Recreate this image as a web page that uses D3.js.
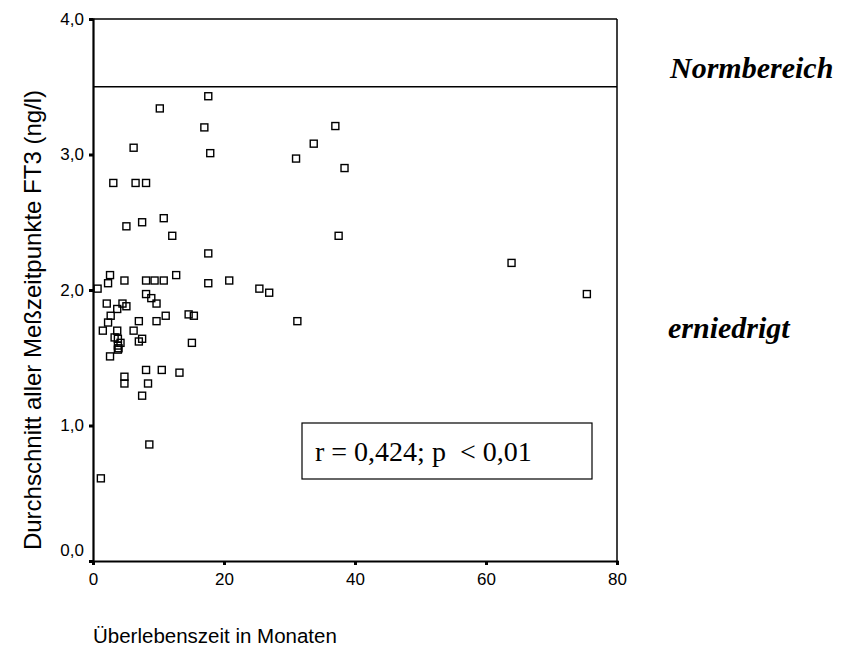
<!DOCTYPE html>
<html><head><meta charset="utf-8">
<script src="https://cdn.jsdelivr.net/npm/d3@7"></script>
<style>body{margin:0;background:#fff}svg{display:block}</style>
</head><body>
<svg id="c" width="851" height="651"></svg>
<script>
const survivalMonths = [17.6,10.2,17.0,6.2,17.9,3.1,6.5,8.1,5.1,7.5,10.8,12.1,17.6,2.6,2.3,0.7,4.8,8.1,9.4,10.8,12.7,17.6,20.8,25.4,26.9,2.1,4.5,3.7,5.1,8.1,8.9,9.7,2.7,2.3,1.5,3.7,7.0,6.2,9.7,11.1,14.6,15.4,3.3,3.8,4.2,3.8,3.9,3.8,7.5,7.0,15.1,2.6,8.1,10.5,13.2,4.8,4.8,8.4,7.5,8.6,1.2,37.0,33.7,31.0,38.4,37.5,31.2,63.9,75.4];
const ft3Mean = [3.43,3.34,3.20,3.05,3.01,2.79,2.79,2.79,2.47,2.50,2.53,2.40,2.27,2.11,2.05,2.01,2.07,2.07,2.07,2.07,2.11,2.05,2.07,2.01,1.98,1.90,1.90,1.86,1.88,1.97,1.94,1.90,1.81,1.76,1.70,1.70,1.77,1.70,1.77,1.81,1.82,1.81,1.65,1.64,1.61,1.59,1.57,1.56,1.64,1.62,1.61,1.51,1.41,1.41,1.39,1.36,1.31,1.31,1.22,0.86,0.61,3.21,3.08,2.97,2.90,2.40,1.77,2.20,1.97];
const xTicks = [0,20,40,60,80];
const yTicks = [0,1,2,3,4];
const normLimit = [3.5];
const xTitle = "Überlebenszeit in Monaten";
const yTitle = "Durchschnitt aller Meßzeitpunkte FT3 (ng/l)";
const zoneLabels = ["Normbereich","erniedrigt"];
const zoneValues = [3.565, 1.646];
const statText = "r = 0,424; p\u00a0\u00a0< 0,01";

const svg = d3.select("#c");
const L=93, R=617, T=19, B=561;
const x = d3.scaleLinear().domain([0,80]).range([L,R]);
const y = d3.scaleLinear().domain([0,4]).range([B,T]);
const fmt = d => d3.format(".1f")(d).replace(".", ",");

// frame top & right
svg.append("line").attr("x1",L).attr("x2",R).attr("y1",T).attr("y2",T).attr("stroke","#000").attr("stroke-width",1.5);
svg.append("line").attr("x1",R).attr("x2",R).attr("y1",T).attr("y2",B).attr("stroke","#000").attr("stroke-width",1.5);

// reference line
svg.selectAll(".ref").data(normLimit).join("line")
  .attr("x1",L).attr("x2",R).attr("y1",d=>y(d)).attr("y2",d=>y(d))
  .attr("stroke","#000").attr("stroke-width",1.5);

// axes
const xAxis = svg.append("g").attr("transform",`translate(0,${B})`)
  .call(d3.axisBottom(x).tickValues(xTicks).tickSize(4).tickPadding(8).tickFormat(d3.format("d")));
const yAxis = svg.append("g").attr("transform",`translate(${L},0)`)
  .call(d3.axisLeft(y).tickValues(yTicks).tickSize(4).tickPadding(5).tickFormat(fmt));
[xAxis,yAxis].forEach(g=>{
  g.select(".domain").attr("stroke","#000").attr("stroke-width",2.2);
  g.selectAll(".tick line").attr("stroke","#000").attr("stroke-width",3);
  g.selectAll("text").attr("font-family","Liberation Sans, Arial, sans-serif").attr("font-size",17).attr("fill","#000");
});
yAxis.selectAll(".tick").filter(d=>d===0).select("text").attr("dy","-0.32em");

// points
svg.append("g").selectAll("rect").data(survivalMonths.map((m,i)=>[m,ft3Mean[i]])).join("rect")
  .attr("x",d=>x(d[0])-3.5).attr("y",d=>y(d[1])-3.5).attr("width",7).attr("height",7)
  .attr("fill","none").attr("stroke","#000").attr("stroke-width",1.4);

// stat box
svg.append("rect").attr("x",302).attr("y",423).attr("width",290).attr("height",56)
  .attr("fill","#fff").attr("stroke","#000").attr("stroke-width",1.2);
svg.append("text").attr("x",315).attr("y",461).text(statText)
  .attr("font-family","Liberation Serif, Times New Roman, serif").attr("font-size",28);

// zone labels
svg.selectAll(".zone").data(zoneLabels).join("text")
  .attr("x",(d,i)=> i===0?670:668).attr("y",(d,i)=>y(zoneValues[i]))
  .attr("font-family","Liberation Serif, Times New Roman, serif").attr("font-size",30)
  .attr("font-weight","bold").attr("font-style","italic").text(d=>d);

// axis titles
svg.append("text").attr("x",L).attr("y",643).text(xTitle)
  .attr("font-family","Liberation Sans, Arial, sans-serif").attr("font-size",20.5);
svg.append("text").attr("transform",`translate(41,${(T+B)/2+30}) rotate(-90)`).attr("text-anchor","middle").text(yTitle)
  .attr("font-family","Liberation Sans, Arial, sans-serif").attr("font-size",24);
</script>
</body></html>
